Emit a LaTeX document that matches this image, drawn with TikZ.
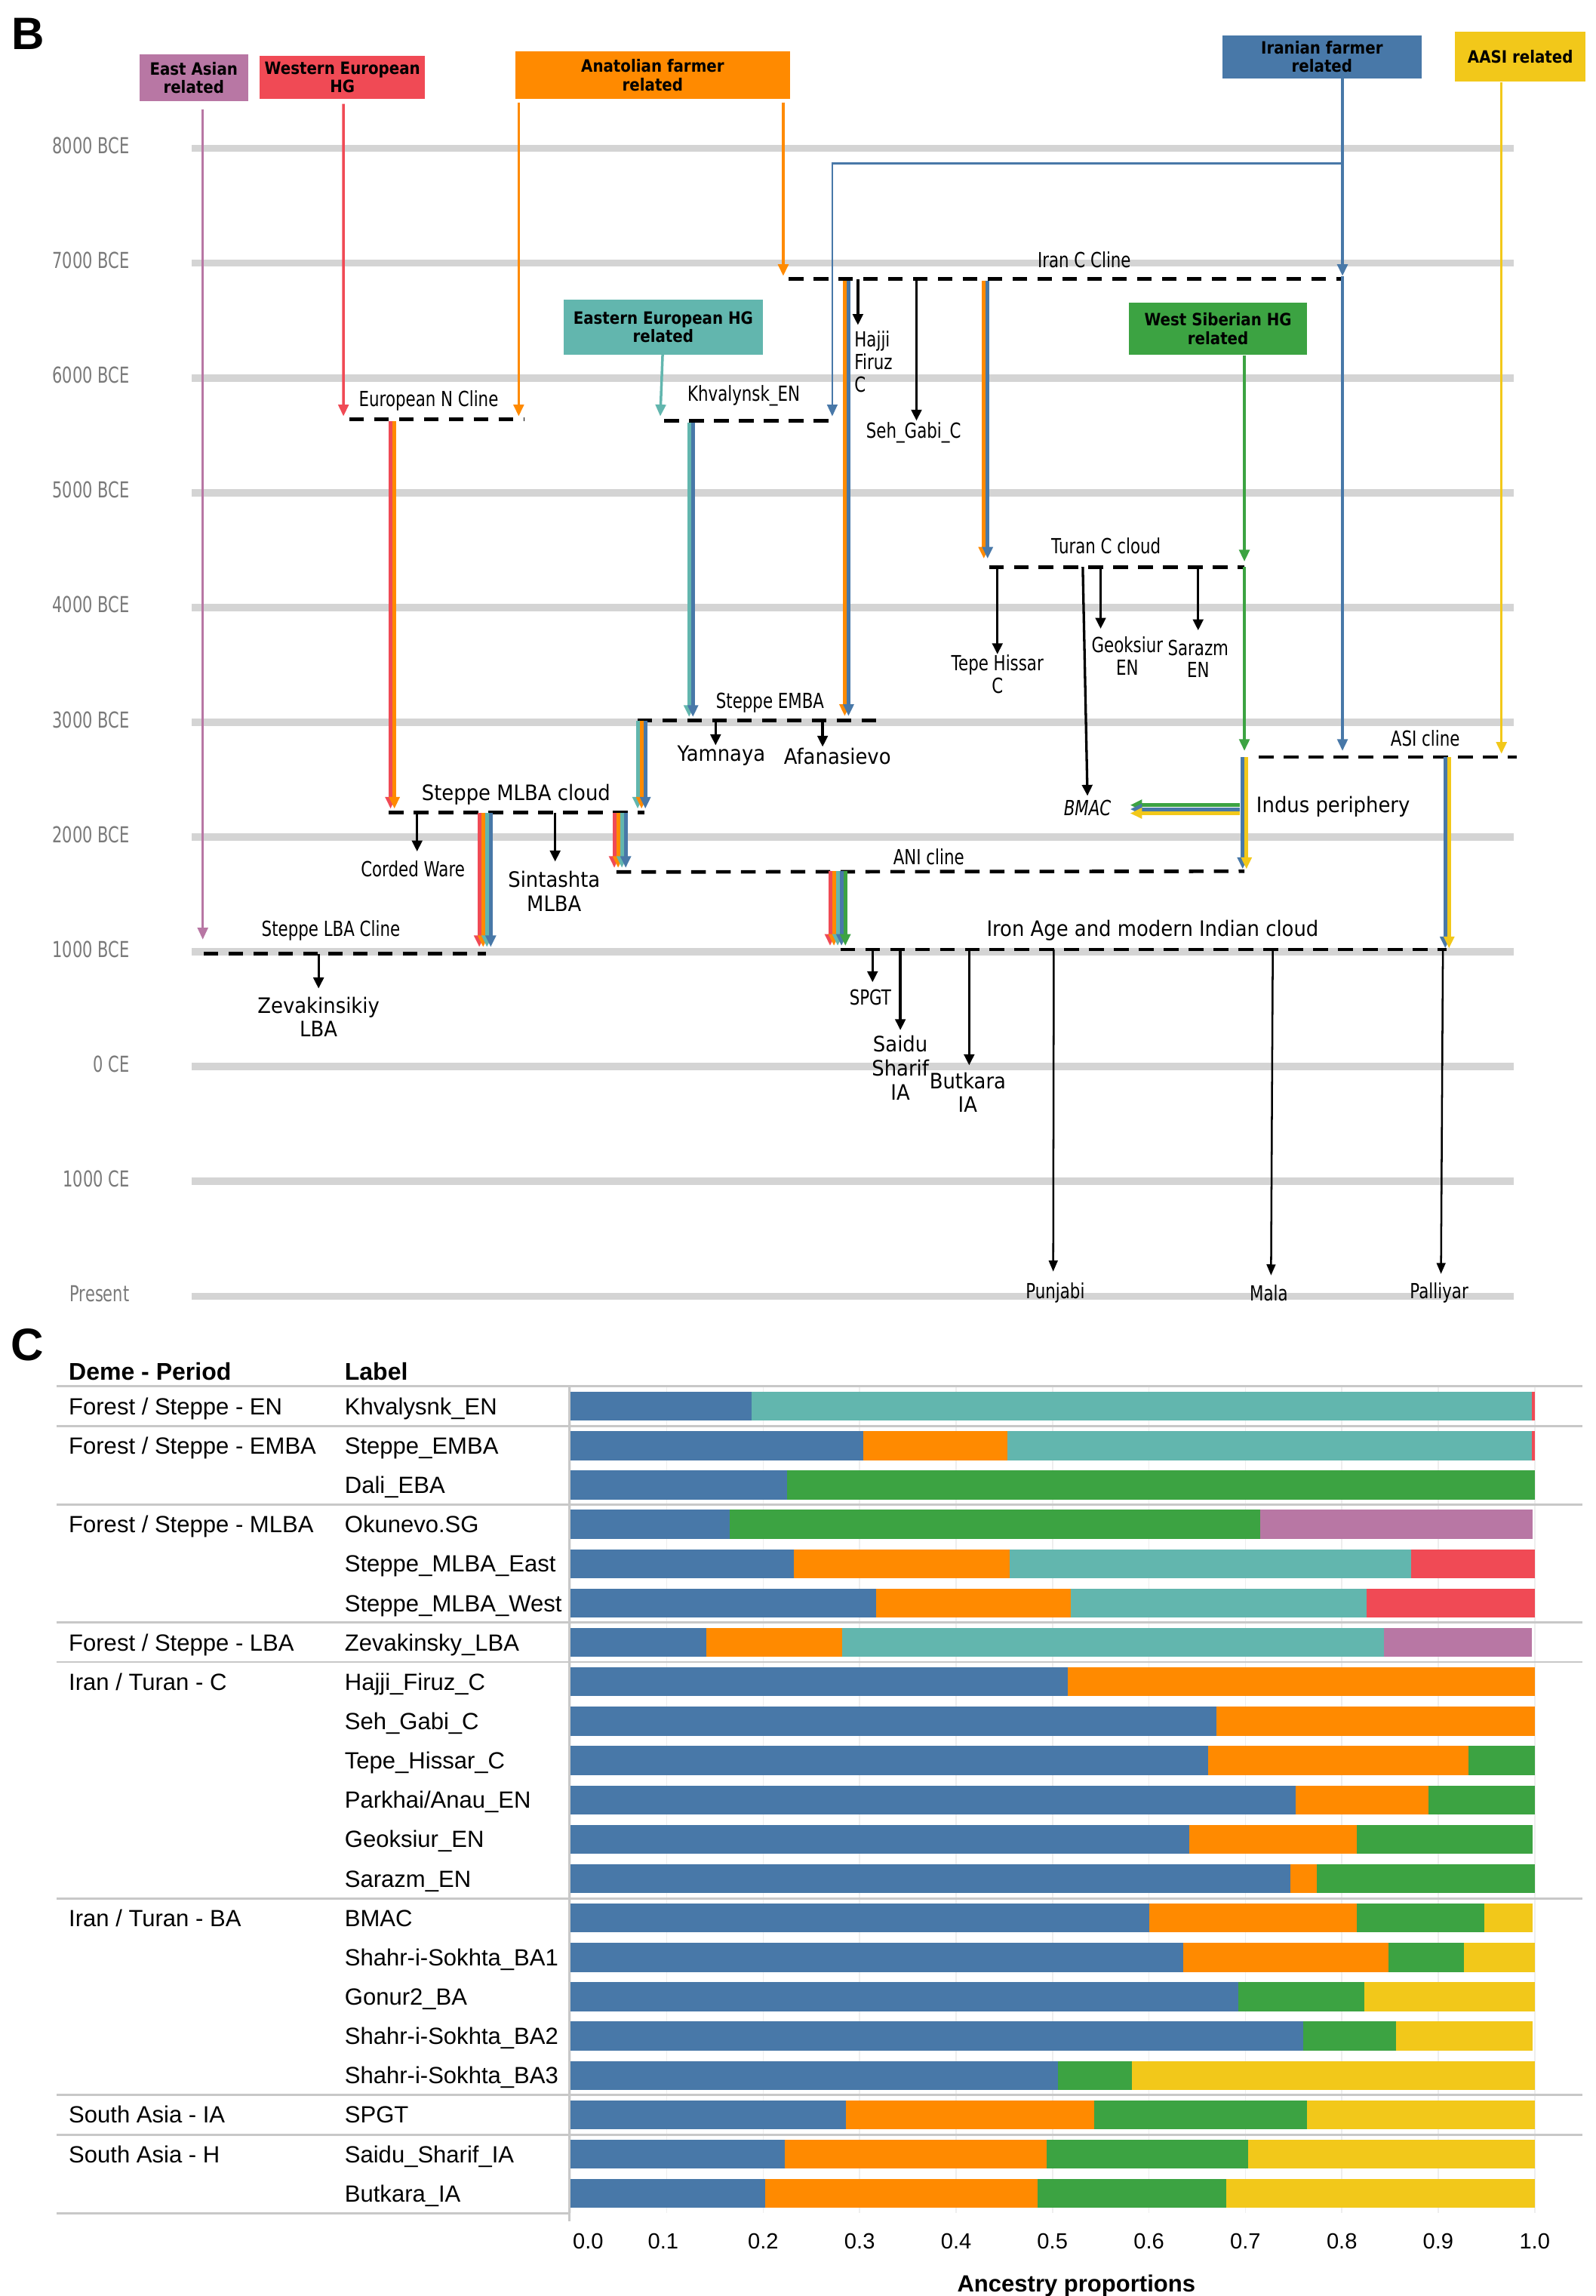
\documentclass[tikz,border=0pt]{standalone}
\usepackage{fontspec}
\setmainfont{DejaVu Sans}
\newfontfamily\nfont[FakeStretch=0.92]{DejaVu Sans}
\newfontfamily\tfont[FakeStretch=0.775]{DejaVu Sans}
\newfontfamily\yfont[FakeStretch=0.72]{DejaVu Sans}
\newfontfamily\hfont[FakeStretch=0.88]{DejaVu Sans}
\newfontfamily\cfont{Liberation Sans}
\usetikzlibrary{arrows.meta}
\definecolor{cblue}{HTML}{4878A8}
\definecolor{corange}{HTML}{FF8A00}
\definecolor{cteal}{HTML}{62B6AE}
\definecolor{cgreen}{HTML}{3CA342}
\definecolor{cpink}{HTML}{B877A4}
\definecolor{cred}{HTML}{F04A55}
\definecolor{cyellow}{HTML}{F2C81A}
\definecolor{cgrid}{HTML}{D4D4D4}
\definecolor{cyear}{HTML}{7A7A7A}
\definecolor{csep}{HTML}{C8C8C8}
\definecolor{cfaint}{HTML}{EEEEEE}
\newcommand{\bundle}[4]{%
  \foreach \cc [count=\i from 0] in {#4}{%
    \draw[car=\cc, line width=2.6pt] ({#1+2.6*\i},#2) -- ({#1+2.6*\i},#3);
  }%
}
\newcommand{\ancbar}[2]{%
  \gdef\prevfr{0}%
  \foreach \cc/\ff in {#2}{%
    \fill[\cc] ({389.6+658.7*\prevfr},{#1-9.9}) rectangle ({389.6+658.7*\ff},{#1+9.9});
    \xdef\prevfr{\ff}%
  }%
}
\begin{document}
\begin{tikzpicture}[x=1pt,y=-1pt,
  gridln/.style={draw=cgrid, line width=5pt},
  yearlab/.style={anchor=east, text=cyear, font=\yfont\fontsize{15}{16}\selectfont, inner sep=0pt},
  tlab/.style={font=\tfont\fontsize{14.2}{15.3}\selectfont, inner sep=0pt, align=center},
  nlab/.style={font=\nfont\fontsize{14.5}{16.3}\selectfont, inner sep=0pt, align=center},
  hdr/.style={fill=#1, font=\hfont\bfseries\fontsize{11.6}{12.6}\selectfont, align=center, inner sep=0pt},
  cline/.style={draw=black, line width=2.4pt, dash pattern=on 10pt off 7pt},
  car/.style={draw=#1, line width=1.8pt, -{Triangle[length=8pt,width=7pt]}},
  blk/.style={draw=black, line width=1.7pt, -{Triangle[length=7.5pt,width=7pt]}},
  blkt/.style={draw=black, line width=1.3pt, -{Triangle[length=7.5pt,width=6pt]}},
  sep/.style={draw=csep, line width=1.5pt},
  ctext/.style={font=\cfont\fontsize{16}{18}\selectfont, inner sep=0pt, anchor=base west},
]
\useasboundingbox (0,0) rectangle (1090,1568);
\fill[white] (0,0) rectangle (1090,1568);

% ---------------- Panel B ----------------
\node[font=\cfont\bfseries\fontsize{31}{31}\selectfont, anchor=base west, inner sep=0pt] (labB) at (8,33.6) {B};

\foreach \k/\lab in {0/8000 BCE,1/7000 BCE,2/6000 BCE,3/5000 BCE,4/4000 BCE,5/3000 BCE,6/2000 BCE,7/1000 BCE,8/0 CE,9/1000 CE,10/Present}{
  \draw[gridln] (131,{101.3+78.39*\k}) -- (1034,{101.3+78.39*\k});
  \node[yearlab] (yr\k) at (88.5,{99.5+78.39*\k}) {\lab};
}

% header boxes
\node[hdr=cpink, minimum width=74.5pt, minimum height=31.6pt] (hEA) at (132.35,53.1) {East Asian\\related};
\node[hdr=cred, minimum width=112.8pt, minimum height=29.8pt] (hWE) at (233.9,52.8) {Western European\\HG};
\node[hdr=corange, minimum width=188pt, minimum height=32pt] (hAN) at (445.8,51.3) {Anatolian farmer\\related};
\node[hdr=cteal, minimum width=136pt, minimum height=37.3pt] (hEE) at (453,223.45) {Eastern European HG\\related};
\node[hdr=cblue, minimum width=136pt, minimum height=29.6pt] (hIR) at (903,38.8) {Iranian farmer\\related};
\node[hdr=cyellow, minimum width=89pt, minimum height=34.2pt] (hAA) at (1038.5,38.7) {AASI related};
\node[hdr=cgreen, minimum width=122pt, minimum height=35.6pt] (hWS) at (832,224.6) {West Siberian HG\\related};

% clines
\draw[cline] (238.6,286.3) coordinate (eurL) -- (357.9,286.3) coordinate (eurR);
\draw[cline] (453.7,287.3) coordinate (khvL) -- (570.4,287.3) coordinate (khvR);
\draw[cline] (538.7,190.5) coordinate (iranL) -- (916.9,190.5) coordinate (iranR);
\draw[cline] (675.5,387.2) coordinate (turL) -- (850,387.2) coordinate (turR);
\draw[cline] (435.6,492.1) coordinate (embaL) -- (603.3,492.1) coordinate (embaR);
\draw[cline] (265.7,554.9) coordinate (mlbaL) -- (440.3,554.9) coordinate (mlbaR);
\draw[cline] (139.2,651.4) coordinate (lbaL) -- (331.9,651.4) coordinate (lbaR);
\draw[cline] (421.1,595.5) coordinate (aniL) -- (850,595) coordinate (aniR);
\draw[cline] (860,517) coordinate (asiL) -- (1036,517) coordinate (asiR);
\draw[cline] (574,648.5) coordinate (iacL) -- (988.2,648.5) coordinate (iacR);

% arrows from the source boxes
\draw[car=cpink, line width=1.5pt] ([xshift=6.15pt,yshift=-5.5pt]hEA.south) -- (138.5,641.6);
\draw[car=cred] ([xshift=0.7pt,yshift=-3pt]hWE.south) -- (234.6,284.3);
\draw[car=corange] ([xshift=-91.5pt,yshift=-2.4pt]hAN.south) -- (354.3,284.3);
\draw[car=corange] ([xshift=89.2pt,yshift=-2.4pt]hAN.south) -- (535,188.5);
\draw[car=cteal] ([xshift=-0.4pt]hEE.south) -- (451,284.3);
\draw[car=cblue] ([xshift=14pt]hIR.south) -- (917,188.5);
\draw[car=cblue] (917,188.5) -- (917,512.8);
\draw[car=cblue, line width=1.3pt] (917,111.7) -- (568.5,111.7) -- (568.5,284.3);
\draw[car=cyellow] ([xshift=-12.9pt]hAA.south) -- (1025.6,514.8);
\draw[car=cgreen] ([xshift=18pt]hWS.south) -- (850,383.5);
\draw[car=cgreen] (850,387.2) -- (850,512.8);

% colour bundles
\bundle{266.8}{287.5}{552.3}{cred,corange}
\bundle{470.7}{288.5}{489.6}{cteal,cblue}
\bundle{577}{191.5}{489}{corange,cblue}
\bundle{672}{191.5}{381.5}{corange,cblue}
\bundle{435.6}{492.1}{552.3}{cteal,corange,cblue}
\bundle{327.4}{555}{646.8}{cred,corange,cteal,cblue}
\bundle{419.6}{555}{592.7}{cred,corange,cteal,cblue}
\bundle{567}{595}{645.9}{cred,corange,cteal,cblue,cgreen}
\bundle{987.2}{517}{647.6}{cblue,cyellow}
\bundle{848.8}{517}{593.5}{cblue,cyellow}
\draw[car=cgreen, line width=2.6pt] (847,549.8) -- (772,549.8);
\draw[car=cblue, line width=2.6pt] (847,552.6) -- (772,552.6);
\draw[car=cyellow, line width=2.6pt] (847,555.4) -- (772,555.4);

% black arrows
\draw[blk] (586,190.5) -- (586,222);
\draw[blk] (626,190.5) -- (626,287.3);
\draw[blk] (681.3,387.2) -- (681.3,446.8);
\draw[blk] (739.6,387.2) -- (742.8,543.5);
\draw[blk] (751.8,387.2) -- (751.8,429.4);
\draw[blk] (818.4,387.2) -- (818.4,430.5);
\draw[blk] (488.8,492.1) -- (488.8,509);
\draw[blk] (561.9,492.1) -- (561.9,510);
\draw[blk] (284.9,554.9) -- (284.9,581.5);
\draw[blk] (379.2,554.9) -- (379.2,588.4);
\draw[blk] (217.6,651.4) -- (217.6,675.1);
\draw[blk] (596,648.5) -- (596,670.8);
\draw[blk] (615,648.5) -- (615,703.5);
\draw[blk] (662,648.5) -- (662,727.5);
\draw[blkt] (719.8,648.5) -- (719.4,868.4);
\draw[blkt] (869.4,648.5) -- (868.2,871);
\draw[blkt] (985.6,648.5) -- (984.3,870);

% labels
\node[tlab] (lEurN) at (292.8,273.6) {European N Cline};
\node[tlab] (lKhv) at (508,270.4) {Khvalynsk\_EN};
\node[tlab] (lIranC) at (740.6,177.3) {Iran C Cline};
\node[tlab, align=left, anchor=north west] (lHajji) at (583.5,226) {Hajji\\Firuz\\C};
\node[tlab] (lSeh) at (624,295.5) {Seh\_Gabi\_C};
\node[tlab] (lTuran) at (755.5,373) {Turan C cloud};
\node[tlab] (lTepe) at (681.3,460.5) {Tepe Hissar\\C};
\node[tlab] (lGeok) at (770,448) {Geoksiur\\EN};
\node[tlab] (lSar) at (818.4,449.8) {Sarazm\\EN};
\node[tlab] (lEMBA) at (526,480.1) {Steppe EMBA};
\node[tlab] (lASI) at (973.5,504.4) {ASI cline};
\node[tlab] (lANI) at (634.4,585.3) {ANI cline};
\node[tlab] (lCorded) at (282,593.5) {Corded Ware};
\node[tlab] (lLBA) at (226,635.6) {Steppe LBA Cline};
\node[tlab] (lSPGT) at (594.5,681.1) {SPGT};
\node[tlab] (lPunj) at (720.8,883) {Punjabi};
\node[tlab] (lMala) at (866.7,883) {Mala};
\node[tlab] (lPall) at (983,883) {Palliyar};
\node[tlab, font=\tfont\itshape\fontsize{14.2}{15}\selectfont] (lBMAC) at (742.8,551.7) {BMAC};
\node[nlab] (lYam) at (492.7,515.8) {Yamnaya};
\node[nlab] (lAfa) at (572,516.4) {Afanasievo};
\node[nlab] (lMLBA) at (352.5,542.8) {Steppe MLBA cloud};
\node[nlab] (lSint) at (378.5,608.5) {Sintashta\\MLBA};
\node[nlab] (lZev) at (217.6,694.5) {Zevakinsikiy\\LBA};
\node[nlab, anchor=west] (lIndus) at (858,550.7) {Indus periphery};
\node[nlab] (lIron) at (787.3,635.6) {Iron Age and modern Indian cloud};
\node[nlab] (lSaidu) at (615,729.2) {Saidu\\Sharif\\IA};
\node[nlab] (lButk) at (661,746) {Butkara\\IA};

% ---------------- Panel C ----------------
\node[font=\cfont\bfseries\fontsize{31}{31}\selectfont, anchor=base west, inner sep=0pt] (labC) at (7.4,929) {C};
\node[ctext, font=\cfont\bfseries\fontsize{16.5}{18}\selectfont] (hDeme) at (46.8,942.5) {Deme - Period};
\node[ctext, font=\cfont\bfseries\fontsize{16.5}{18}\selectfont] (hLab) at (235.3,942.5) {Label};

\foreach \k in {0,...,10}{
  \draw[cfaint, line width=0.8pt] ({389.6+65.87*\k},946.7) -- ({389.6+65.87*\k},1511.5);
}

\ancbar{960.4}{cblue/0.188,cteal/0.997,cred/1.0}
\ancbar{987.28}{cblue/0.304,corange/0.453,cteal/0.997,cred/1.0}
\ancbar{1014.16}{cblue/0.2245,cgreen/1.0}
\ancbar{1041.04}{cblue/0.165,cgreen/0.715,cpink/0.998}
\ancbar{1067.92}{cblue/0.232,corange/0.4556,cteal/0.872,cred/1.0}
\ancbar{1094.8}{cblue/0.317,corange/0.519,cteal/0.8255,cred/1.0}
\ancbar{1121.68}{cblue/0.141,corange/0.282,cteal/0.844,cpink/0.997}
\ancbar{1148.56}{cblue/0.516,corange/1.0}
\ancbar{1175.44}{cblue/0.670,corange/1.0}
\ancbar{1202.32}{cblue/0.6617,corange/0.9314,cgreen/1.0}
\ancbar{1229.2}{cblue/0.752,corange/0.890,cgreen/1.0}
\ancbar{1256.08}{cblue/0.642,corange/0.8156,cgreen/0.998}
\ancbar{1282.96}{cblue/0.747,corange/0.774,cgreen/1.0}
\ancbar{1309.84}{cblue/0.600,corange/0.8156,cgreen/0.9477,cyellow/0.998}
\ancbar{1336.72}{cblue/0.6355,corange/0.848,cgreen/0.927,cyellow/1.0}
\ancbar{1363.6}{cblue/0.6927,cgreen/0.8234,cyellow/1.0}
\ancbar{1390.48}{cblue/0.760,cgreen/0.856,cyellow/0.998}
\ancbar{1417.36}{cblue/0.506,cgreen/0.582,cyellow/1.0}
\ancbar{1444.24}{cblue/0.286,corange/0.543,cgreen/0.764,cyellow/1.0}
\ancbar{1471.12}{cblue/0.2224,corange/0.494,cgreen/0.7026,cyellow/1.0}
\ancbar{1498.0}{cblue/0.202,corange/0.4844,cgreen/0.680,cyellow/1.0}

\foreach \yy in {946.7,973.7,1027.4,1108.1,1135,1296.4,1430.6,1458}{
  \draw[sep] (38.9,\yy) -- (1080.7,\yy);
}
\draw[sep] (38.9,1511.5) -- (389,1511.5);
\draw[sep] (389,946.7) -- (389,1517);

\foreach \yy/\gt in {960.4/{Forest / Steppe - EN},987.28/{Forest / Steppe - EMBA},1041.04/{Forest / Steppe - MLBA},1121.68/{Forest / Steppe - LBA},1148.56/{Iran / Turan - C},1309.84/{Iran / Turan - BA},1444.24/{South Asia - IA},1471.12/{South Asia - H}}{
  \node[ctext] at (46.8,\yy+5.7) {\gt};
}
\foreach \yy/\lt in {960.4/Khvalysnk\_EN,987.28/Steppe\_EMBA,1014.16/Dali\_EBA,1041.04/Okunevo.SG,1067.92/Steppe\_MLBA\_East,1094.8/Steppe\_MLBA\_West,1121.68/Zevakinsky\_LBA,1148.56/Hajji\_Firuz\_C,1175.44/Seh\_Gabi\_C,1202.32/Tepe\_Hissar\_C,1229.2/{Parkhai/Anau\_EN},1256.08/Geoksiur\_EN,1282.96/Sarazm\_EN,1309.84/BMAC,1336.72/Shahr-i-Sokhta\_BA1,1363.6/Gonur2\_BA,1390.48/Shahr-i-Sokhta\_BA2,1417.36/Shahr-i-Sokhta\_BA3,1444.24/SPGT,1471.12/Saidu\_Sharif\_IA,1498.0/Butkara\_IA}{
  \node[ctext] at (235.3,\yy+5.7) {\lt};
}

\foreach \xx/\tk in {401.7/0.0,453/0.1,521.3/0.2,587.2/0.3,653.1/0.4,718.9/0.5,784.8/0.6,850.7/0.7,916.6/0.8,982.4/0.9,1048.3/1.0}{
  \node[font=\cfont\fontsize{15}{18}\selectfont, inner sep=0pt, anchor=base] at (\xx,1535.6) {\tk};
}
\node[font=\cfont\bfseries\fontsize{16}{18}\selectfont, inner sep=0pt, anchor=base] (axt) at (735.2,1565) {Ancestry proportions};
\end{tikzpicture}
\end{document}
